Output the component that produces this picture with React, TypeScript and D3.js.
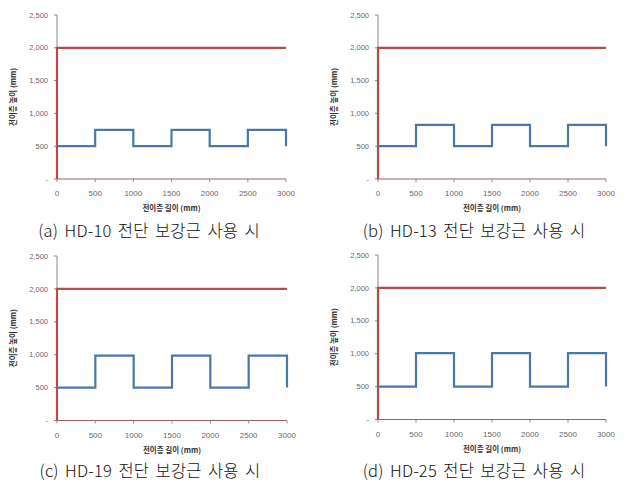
import React from "react";
import * as d3 from "d3";

const xBreaks = [0, 500, 1000, 1500, 2000, 2500, 3000];
const yTicks = [0, 500, 1000, 1500, 2000, 2500];
const heightsA = [500, 750, 500, 750, 500, 750, 500];
const heightsB = [500, 825, 500, 825, 500, 825, 500];
const heightsC = [500, 985, 500, 985, 500, 985, 500];
const heightsD = [500, 1010, 500, 1010, 500, 1010, 500];
const limitX = [0, 0, 3000];
const limitY = [0, 2000, 2000];
const captions = [
  "(a) HD-10 전단 보강근 사용 시",
  "(b) HD-13 전단 보강근 사용 시",
  "(c) HD-19 전단 보강근 사용 시",
  "(d) HD-25 전단 보강근 사용 시",
];
const xTitle = "전이층 길이 (mm)";
const yTitle = "전이층 높이 (mm)";

type PanelProps = {
  heights: number[];
  caption: string;
  x0: number;
  x1: number;
  yTop: number;
  yBot: number;
  capX: number;
  capY: number;
};

const RED = "#b94c4a";
const BLUE = "#4a78a8";
const tickFont = "'Liberation Sans', Arial, sans-serif";

function Panel({ heights, caption, x0, x1, yTop, yBot, capX, capY }: PanelProps) {
  const x = d3.scaleLinear().domain([0, 3000]).range([x0, x1]);
  const y = d3.scaleLinear().domain([0, 2500]).range([yBot, yTop]);
  const step = d3
    .line<number>()
    .x((_, i) => x(xBreaks[i]))
    .y((d) => y(d))
    .curve(d3.curveStepAfter)(heights) as string;
  const limit = d3
    .line<number>()
    .x((d) => x(d))
    .y((_, i) => y(limitY[i]))(limitX) as string;
  const yFmt = (d: number) => (d === 0 ? "-" : d3.format(",")(d));
  const midY = (yTop + yBot) / 2;
  return (
    <g>
      <line x1={x0} x2={x0} y1={yTop} y2={yBot} stroke="#8a8a8a" strokeWidth={1} />
      {yTicks.map((t) => (
        <g key={"yt" + t}>
          <line x1={x0 - 3} x2={x0} y1={y(t)} y2={y(t)} stroke="#8a8a8a" />
          <text
            x={x0 - 9}
            y={y(t)}
            dy="0.35em"
            textAnchor="end"
            fontSize={7.5}
            fill="#6a6a6a"
            fontFamily={tickFont}
          >
            {yFmt(t)}
          </text>
        </g>
      ))}
      <line x1={x0} x2={x1} y1={yBot} y2={yBot} stroke="#a0605e" strokeWidth={1.2} />
      {xBreaks.map((t) => (
        <g key={"xt" + t}>
          <line x1={x(t)} x2={x(t)} y1={yBot} y2={yBot + 3} stroke="#8a8a8a" />
          <text
            x={x(t)}
            y={yBot + 17}
            textAnchor="middle"
            fontSize={8}
            fill="#6a6a6a"
            fontFamily={tickFont}
          >
            {t}
          </text>
        </g>
      ))}
      <path d={limit} fill="none" stroke={RED} strokeWidth={2.2} />
      <path d={step} fill="none" stroke={BLUE} strokeWidth={2.2} />
      <text
        x={(x0 + x1) / 2}
        y={yBot + 32}
        textAnchor="middle"
        fontSize={7.5}
        fontWeight="bold"
        fill="#333"
        fontFamily="'Noto Sans CJK KR', sans-serif"
      >
        {xTitle}
      </text>
      <text
        transform={`translate(${x0 - 41},${midY}) rotate(-90)`}
        textAnchor="middle"
        fontSize={7.5}
        fontWeight="bold"
        fill="#333"
        fontFamily="'Noto Sans CJK KR', sans-serif"
      >
        {yTitle}
      </text>
      <text
        x={capX}
        y={capY}
        textAnchor="middle"
        fontSize={16.5}
        fill="#111"
        letterSpacing={0.2}
        wordSpacing={2.5}
        fontWeight={300}
        fontFamily="'Noto Sans CJK KR', sans-serif"
      >
        {caption}
      </text>
    </g>
  );
}

export default function App() {
  return (
    <svg
      width={624}
      height={492}
      style={{ position: "absolute", left: 0, top: 0, background: "#fff" }}
    >
      <Panel heights={heightsA} caption={captions[0]} x0={57} x1={286} yTop={15} yBot={179} capX={149} capY={237} />
      <Panel heights={heightsB} caption={captions[1]} x0={378} x1={606} yTop={15} yBot={179} capX={474} capY={237} />
      <Panel heights={heightsC} caption={captions[2]} x0={57} x1={287} yTop={256} yBot={420.5} capX={150} capY={477} />
      <Panel heights={heightsD} caption={captions[3]} x0={378} x1={606} yTop={255} yBot={419.5} capX={474} capY={477} />
    </svg>
  );
}
